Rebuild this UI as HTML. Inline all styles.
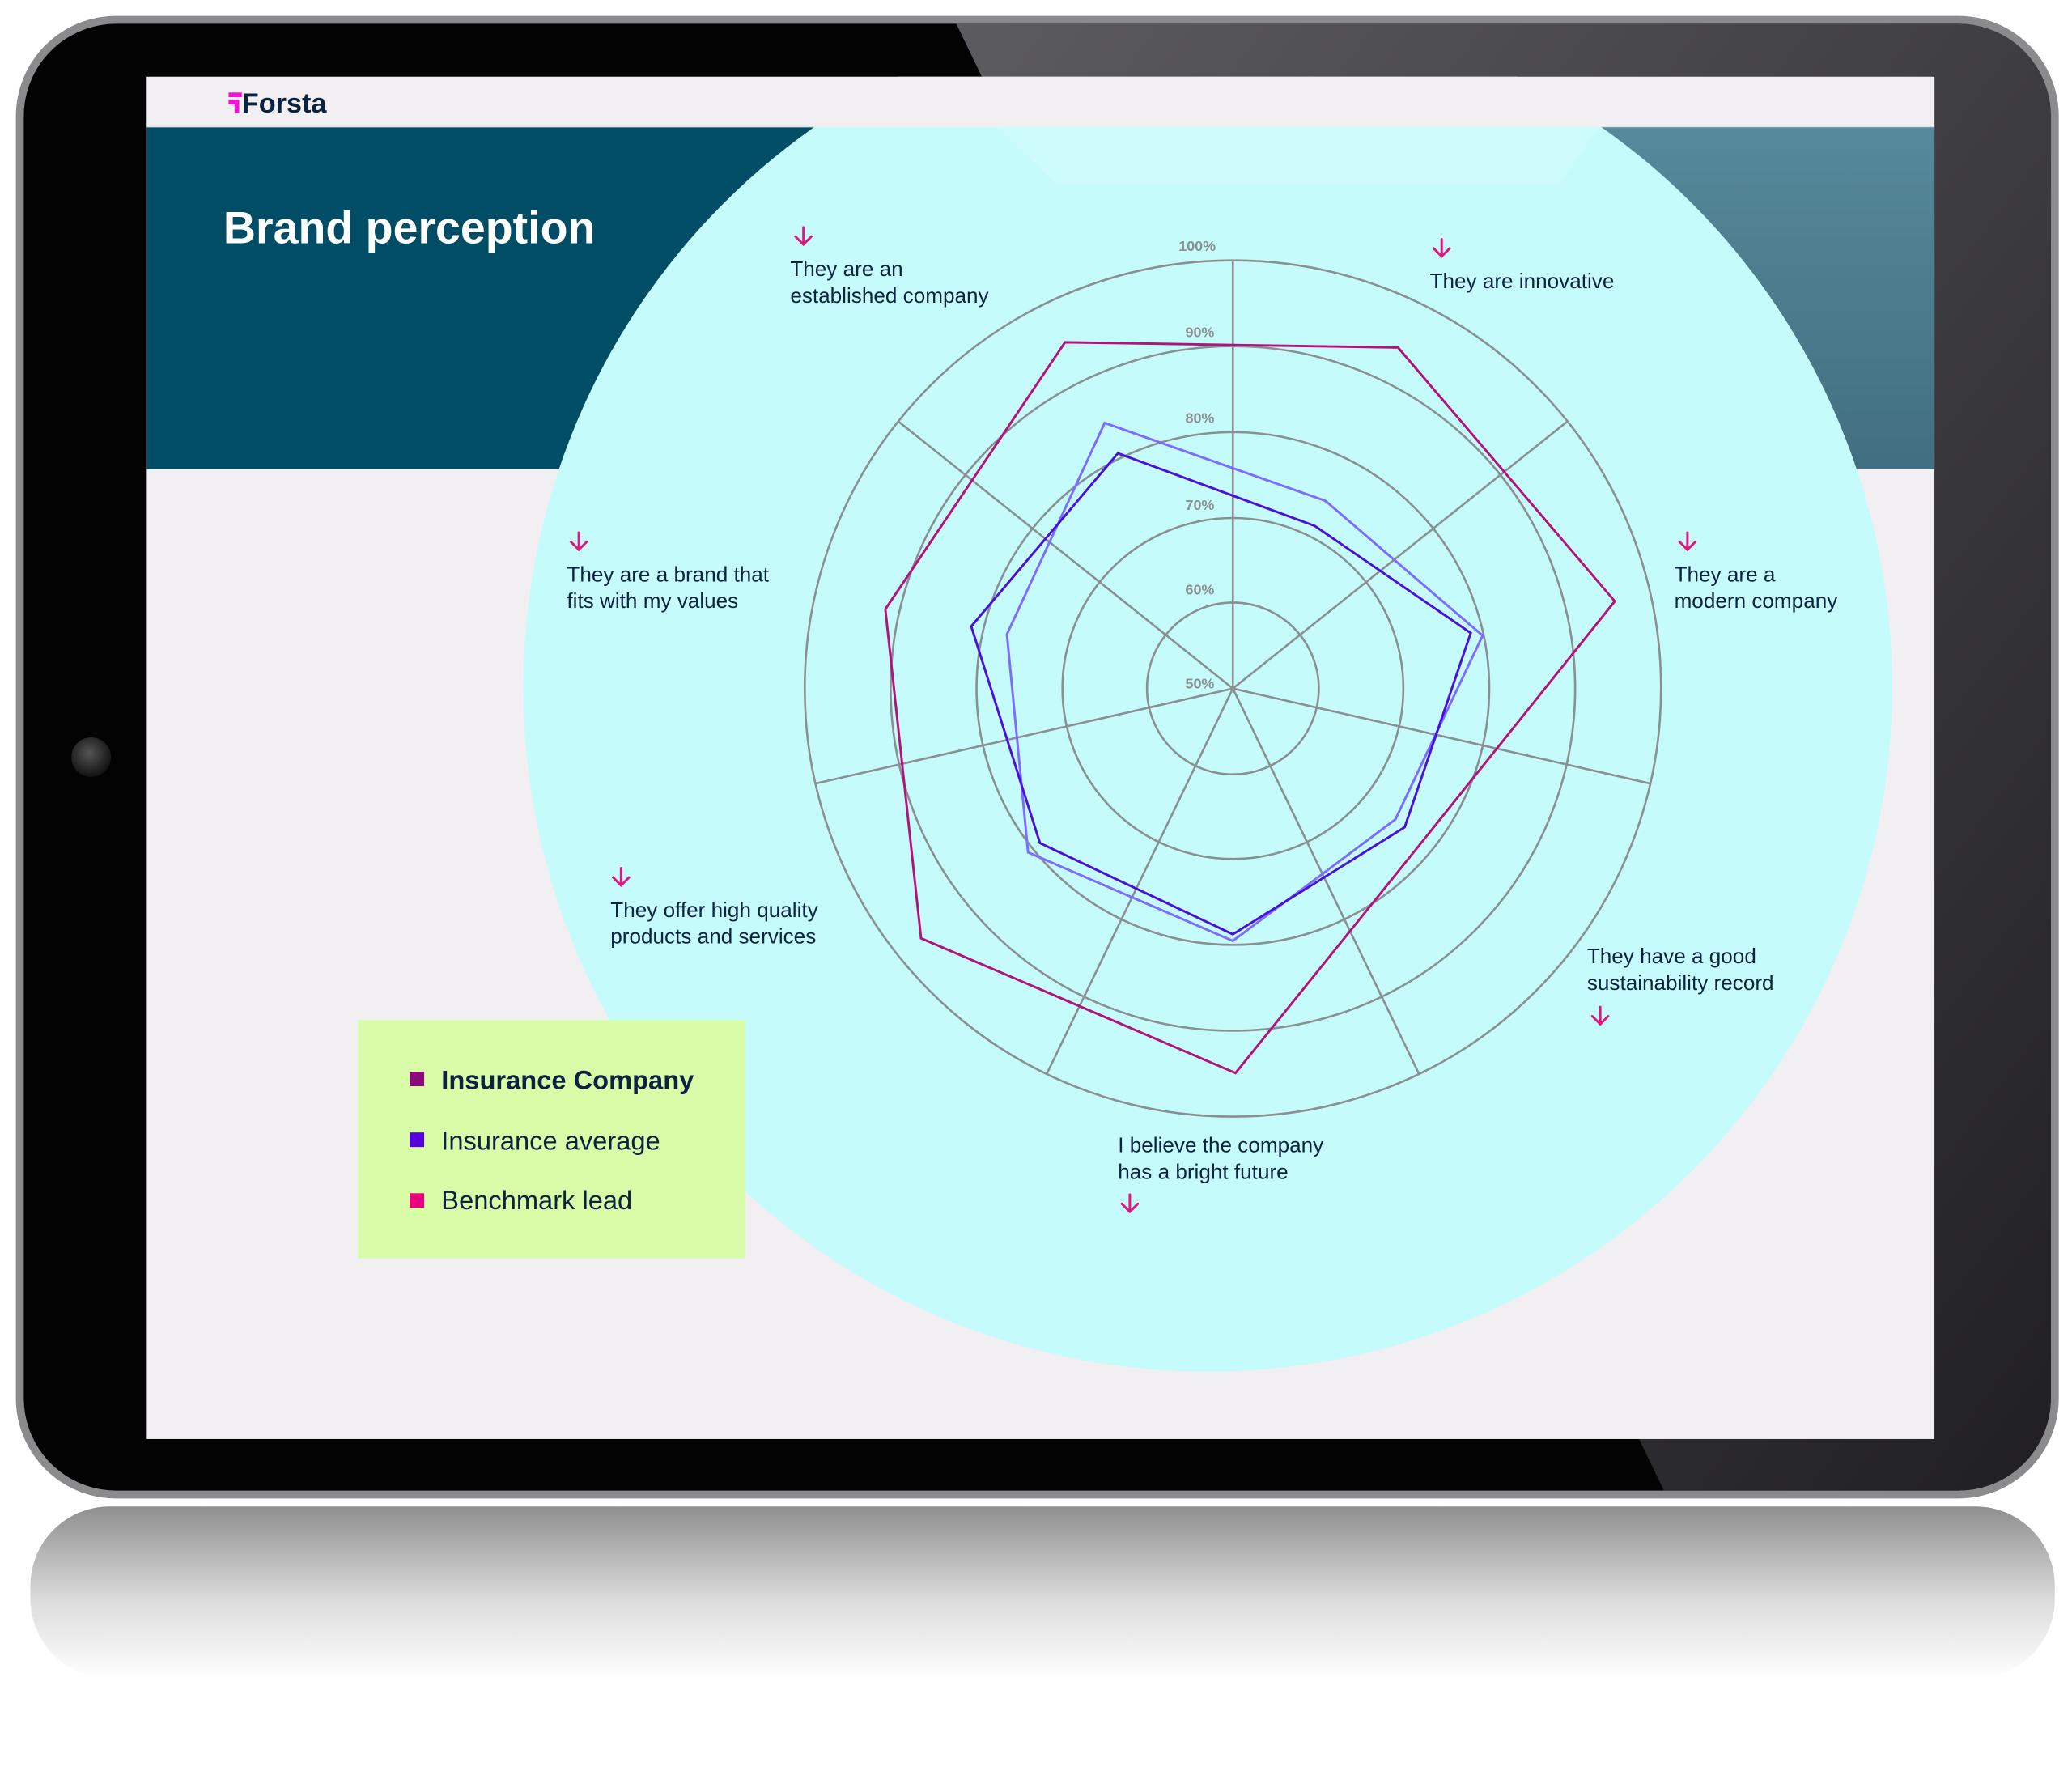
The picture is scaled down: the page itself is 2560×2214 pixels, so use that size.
<!DOCTYPE html>
<html><head><meta charset="utf-8"><style>
html,body{margin:0;padding:0;background:#fff;}
body{width:2560px;height:2206px;overflow:hidden;position:relative;}
#w{position:absolute;left:0;top:0;width:1568px;height:1351px;transform:scale(1.63265);transform-origin:0 0;}
svg text{font-family:"Liberation Sans",sans-serif;}
</style></head><body><div id="w">
<svg width="1568" height="1351" viewBox="0 0 1568 1351" xmlns="http://www.w3.org/2000/svg">
<defs>
<linearGradient id="refl" x1="0" y1="0" x2="0" y2="1">
<stop offset="0" stop-color="#8f8f8f"/><stop offset="0.55" stop-color="#dcdcdc"/><stop offset="1" stop-color="#ffffff"/>
</linearGradient>
<linearGradient id="gr" x1="0" y1="0" x2="1" y2="1">
<stop offset="0" stop-color="#5d5c5f"/><stop offset="1" stop-color="#1f1e21"/>
</linearGradient>
<linearGradient id="tl" x1="0" y1="0" x2="0" y2="1">
<stop offset="0" stop-color="#55899b"/><stop offset="1" stop-color="#426f80"/>
</linearGradient>
<radialGradient id="cam" cx="0.45" cy="0.4" r="0.6">
<stop offset="0" stop-color="#555"/><stop offset="1" stop-color="#111"/>
</radialGradient>
<clipPath id="body"><rect x="18" y="18" width="1534" height="1110" rx="70"/></clipPath>
<clipPath id="scr"><rect x="111" y="58" width="1353" height="1031"/></clipPath>
</defs>
<rect x="23" y="1140" width="1532" height="130" rx="60" fill="url(#refl)"/>
<rect x="12" y="12" width="1546" height="1122" rx="76" fill="#8b8b8d"/>
<rect x="18" y="18" width="1534" height="1110" rx="70" fill="#030303"/>
<g clip-path="url(#body)">
<polygon points="715,0 1568,0 1568,1140 1265,1140" fill="url(#gr)"/>
</g>
<circle cx="69" cy="573" r="15" fill="url(#cam)"/>
<g clip-path="url(#scr)">
<rect x="111" y="58" width="1353" height="1031" fill="#f1eff2"/>
<rect x="111" y="96" width="803" height="259" fill="#024d66"/>
<rect x="914" y="96" width="550" height="259" fill="url(#tl)"/>
<rect x="111" y="95.5" width="1353" height="1" fill="#9fb3bb"/>
<circle cx="914" cy="520" r="518" fill="#c6fbfb"/>
<rect x="111" y="58" width="1353" height="38" fill="#f1eff2"/>
<polygon points="755,96 1210,96 1180,140 800,140" fill="#d2fbfb" opacity="0.6"/>
</g>
<rect x="173" y="70" width="10" height="3.5" fill="#f012d8"/>
<rect x="173" y="75.5" width="8" height="3.5" fill="#f012d8"/>
<rect x="177.5" y="75.5" width="3.5" height="10" fill="#f012d8"/>
<text x="183" y="85" font-size="21" font-weight="bold" fill="#0b2340">Forsta</text>
<text x="169" y="184" font-size="34" font-weight="bold" fill="#ffffff">Brand perception</text>
<g fill="none" stroke="#8a8f94" stroke-width="1.6">
<circle cx="933" cy="521" r="65"/>
<circle cx="933" cy="521" r="129"/>
<circle cx="933" cy="521" r="194"/>
<circle cx="933" cy="521" r="259"/>
<circle cx="933" cy="521" r="324"/>
<line x1="933" y1="521" x2="933" y2="197"/>
<line x1="933" y1="521" x2="1186" y2="319"/>
<line x1="933" y1="521" x2="1249" y2="593"/>
<line x1="933" y1="521" x2="1074" y2="813"/>
<line x1="933" y1="521" x2="792" y2="813"/>
<line x1="933" y1="521" x2="617" y2="593"/>
<line x1="933" y1="521" x2="680" y2="319"/>
</g>
<g font-size="11" font-weight="bold" fill="#8a8f94" text-anchor="middle">
<text x="906" y="190">100%</text><text x="908" y="255">90%</text><text x="908" y="320">80%</text>
<text x="908" y="386">70%</text><text x="908" y="450">60%</text><text x="908" y="521">50%</text>
</g>
<polygon points="836,320 1003,379 1122,481 1056,620 933,712 778,645 762,480" fill="none" stroke="#7d6cff" stroke-width="1.8"/>
<polygon points="846,343 995,398 1113,479 1063,626 933,707 787,638 735,474" fill="none" stroke="#4a10d8" stroke-width="1.8"/>
<polygon points="806,259 1058,263 1222,455 1077,636 935,812 697,710 670,461" fill="none" stroke="#b3127c" stroke-width="1.8"/>
<g font-size="16" fill="#0b2340">
<text x="598" y="209">They are an</text><text x="598" y="229">established company</text>
<text x="1082" y="218">They are innovative</text>
<text x="1267" y="440">They are a</text><text x="1267" y="460">modern company</text>
<text x="1201" y="729">They have a good</text><text x="1201" y="749">sustainability record</text>
<text x="846" y="872">I believe the company</text><text x="846" y="892">has a bright future</text>
<text x="462" y="694">They offer high quality</text><text x="462" y="714">products and services</text>
<text x="429" y="440">They are a brand that</text><text x="429" y="460">fits with my values</text>
</g>
<g fill="none" stroke="#e0157f" stroke-width="1.8" stroke-linecap="round">
<path d="M608,172 v13 M602,179 l6,6 l6,-6"/>
<path d="M1091,181 v13 M1085,188 l6,6 l6,-6"/>
<path d="M1277,403 v13 M1271,410 l6,6 l6,-6"/>
<path d="M1211,762 v13 M1205,769 l6,6 l6,-6"/>
<path d="M855,904 v13 M849,911 l6,6 l6,-6"/>
<path d="M470,657 v13 M464,664 l6,6 l6,-6"/>
<path d="M438,403 v13 M432,410 l6,6 l6,-6"/>
</g>
<rect x="271" y="772" width="293" height="180" fill="#d9fca8"/>
<rect x="310" y="811" width="11" height="11" fill="#8a0a78"/>
<rect x="310" y="857" width="11" height="11" fill="#5500dd"/>
<rect x="310" y="903" width="11" height="11" fill="#e8007c"/>
<g font-size="20" fill="#0b2340">
<text x="334" y="824" font-weight="bold">Insurance Company</text>
<text x="334" y="870">Insurance average</text>
<text x="334" y="915">Benchmark lead</text>
</g>
</svg>
</div></body></html>
